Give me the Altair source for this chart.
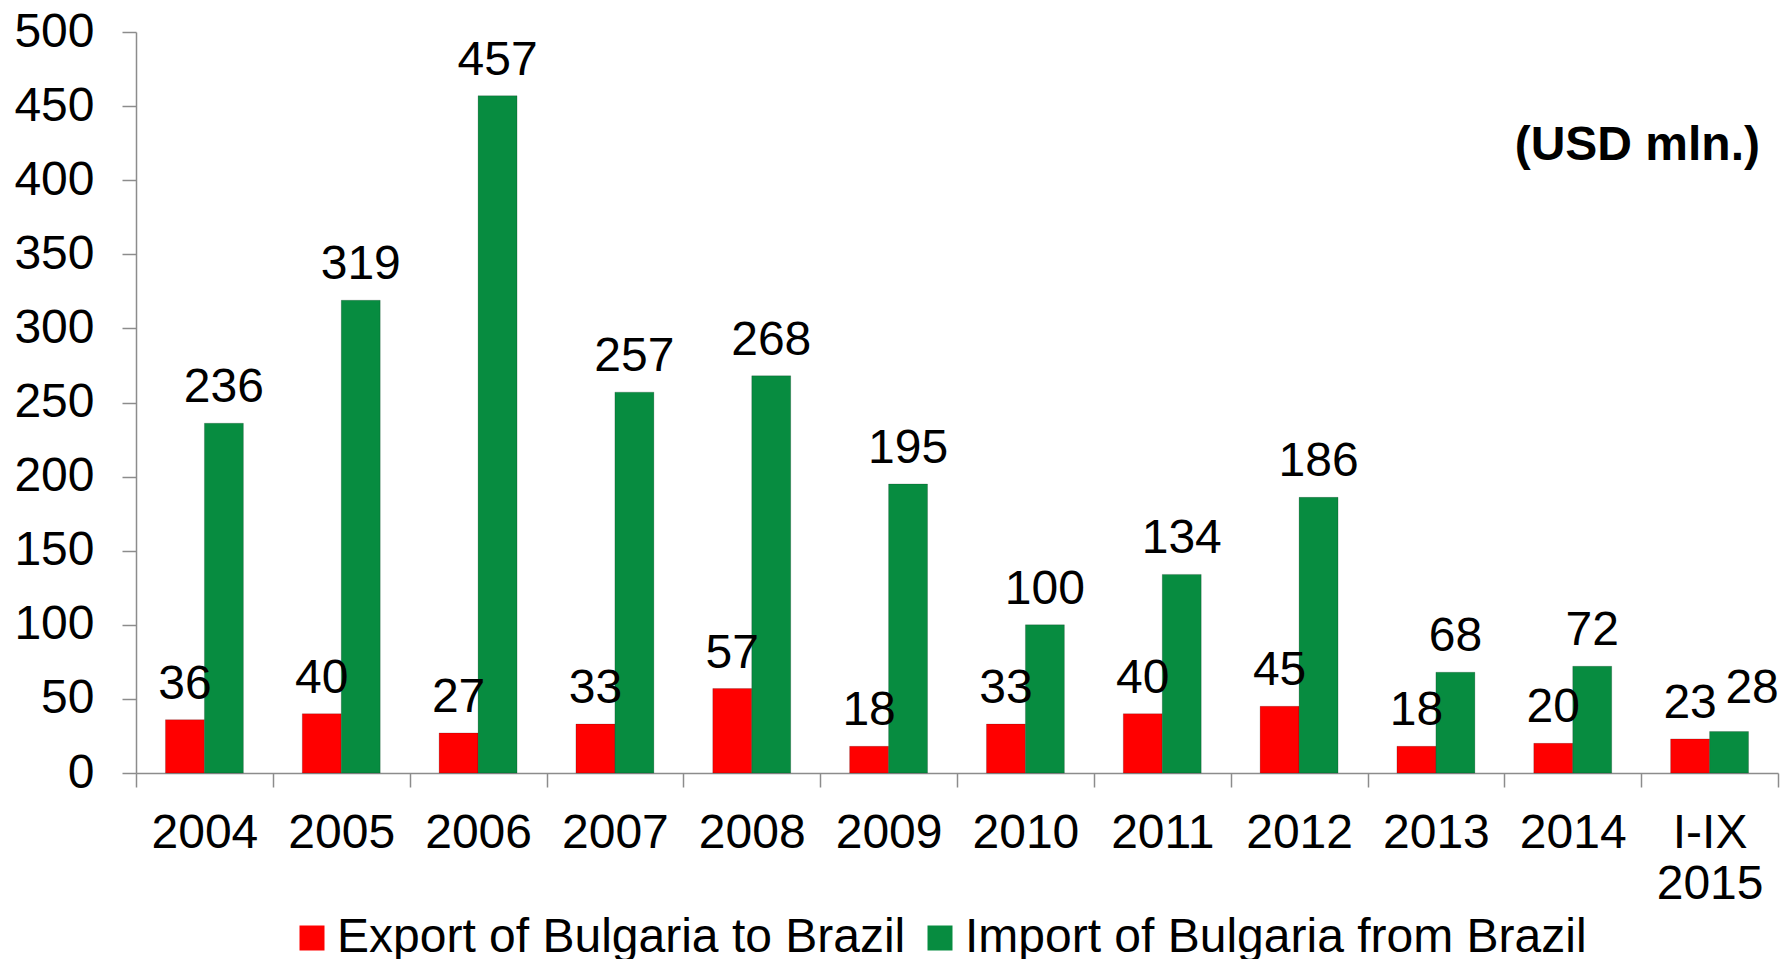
import altair as alt
import pandas as pd

categories = ["2004", "2005", "2006", "2007", "2008", "2009", "2010", "2011", "2012", "2013", "2014", "I-IX 2015"]
export_values = [36, 40, 27, 33, 57, 18, 33, 40, 45, 18, 20, 23]
import_values = [236, 319, 457, 257, 268, 195, 100, 134, 186, 68, 72, 28]
series_names = ["Export of Bulgaria to Brazil", "Import of Bulgaria from Brazil"]
series_colors = ["#ff0000", "#078c40"]
unit_label = ["(USD mln.)"]
y_ticks = [0, 50, 100, 150, 200, 250, 300, 350, 400, 450, 500]

rows = []
for c, e, i in zip(categories, export_values, import_values):
    rows.append({"year": c, "series": series_names[0], "value": e})
    rows.append({"year": c, "series": series_names[1], "value": i})
df = pd.DataFrame(rows)

FONT = "Liberation Sans"
FS = 48
AXIS_GRAY = "#8c8c8c"

x = alt.X(
    "year:N",
    sort=categories,
    scale=alt.Scale(paddingInner=0, paddingOuter=0),
    axis=alt.Axis(
        title=None, labelAngle=0, labelFontSize=FS, labelFont=FONT, labelColor="black",
        tickBand="extent", tickSize=14, labelPadding=22,
        domainColor=AXIS_GRAY, tickColor=AXIS_GRAY, domainWidth=1.5, tickWidth=1.5,
        labelExpr="split(datum.label, ' ')", labelLineHeight=51, grid=False,
    ),
)
xo = alt.XOffset("series:N", sort=series_names,
                 scale=alt.Scale(paddingInner=0, paddingOuter=0.756))
y = alt.Y(
    "value:Q",
    scale=alt.Scale(domain=[0, 500], nice=False),
    axis=alt.Axis(
        title=None, values=y_ticks, labelFontSize=FS, labelFont=FONT, labelColor="black",
        tickSize=14, labelPadding=28, domainColor=AXIS_GRAY, tickColor=AXIS_GRAY,
        domainWidth=1.5, tickWidth=1.5, grid=False,
    ),
)
color = alt.Color(
    "series:N",
    sort=series_names,
    scale=alt.Scale(domain=series_names, range=series_colors),
    legend=alt.Legend(
        orient="none", legendX=152, legendY=882, direction="horizontal", title=None,
        symbolType="square", symbolSize=625, labelFontSize=FS, labelFont=FONT,
        labelColor="black", labelLimit=0, columnPadding=10, labelOffset=1,
        symbolStrokeWidth=0, padding=0,
    ),
)

base = alt.Chart(df)

bars = base.mark_bar(stroke="black", strokeOpacity=0.18, strokeWidth=1).encode(
    x=x, xOffset=xo, y=y, color=color
)

labels = base.transform_filter(
    "!(datum.year == 'I-IX 2015' && datum.series == 'Import of Bulgaria from Brazil')"
).mark_text(fontSize=FS, font=FONT, baseline="alphabetic", dy=-21, color="black").encode(
    x=x, xOffset=xo, y=y, text="value:Q"
)

label_last = base.transform_filter(
    "datum.year == 'I-IX 2015' && datum.series == 'Import of Bulgaria from Brazil'"
).mark_text(fontSize=FS, font=FONT, baseline="alphabetic", dy=-29, dx=23, color="black").encode(
    x=x, xOffset=xo, y=y, text="value:Q"
)

unit = alt.Chart(pd.DataFrame({"t": unit_label})).mark_text(
    fontSize=FS, font=FONT, fontWeight="bold", align="right", baseline="alphabetic", color="black"
).encode(text="t:N", x=alt.value(1624), y=alt.value(128))

chart = alt.layer(bars, labels, label_last, unit).properties(
    width=1642, height=741,
    autosize=alt.AutoSizeParams(type="none"),
    padding={"left": 128, "top": 24, "right": 3, "bottom": 190},
).configure_view(stroke=None)

chart.save("out.html", embed_options={"renderer": "svg", "actions": False})
